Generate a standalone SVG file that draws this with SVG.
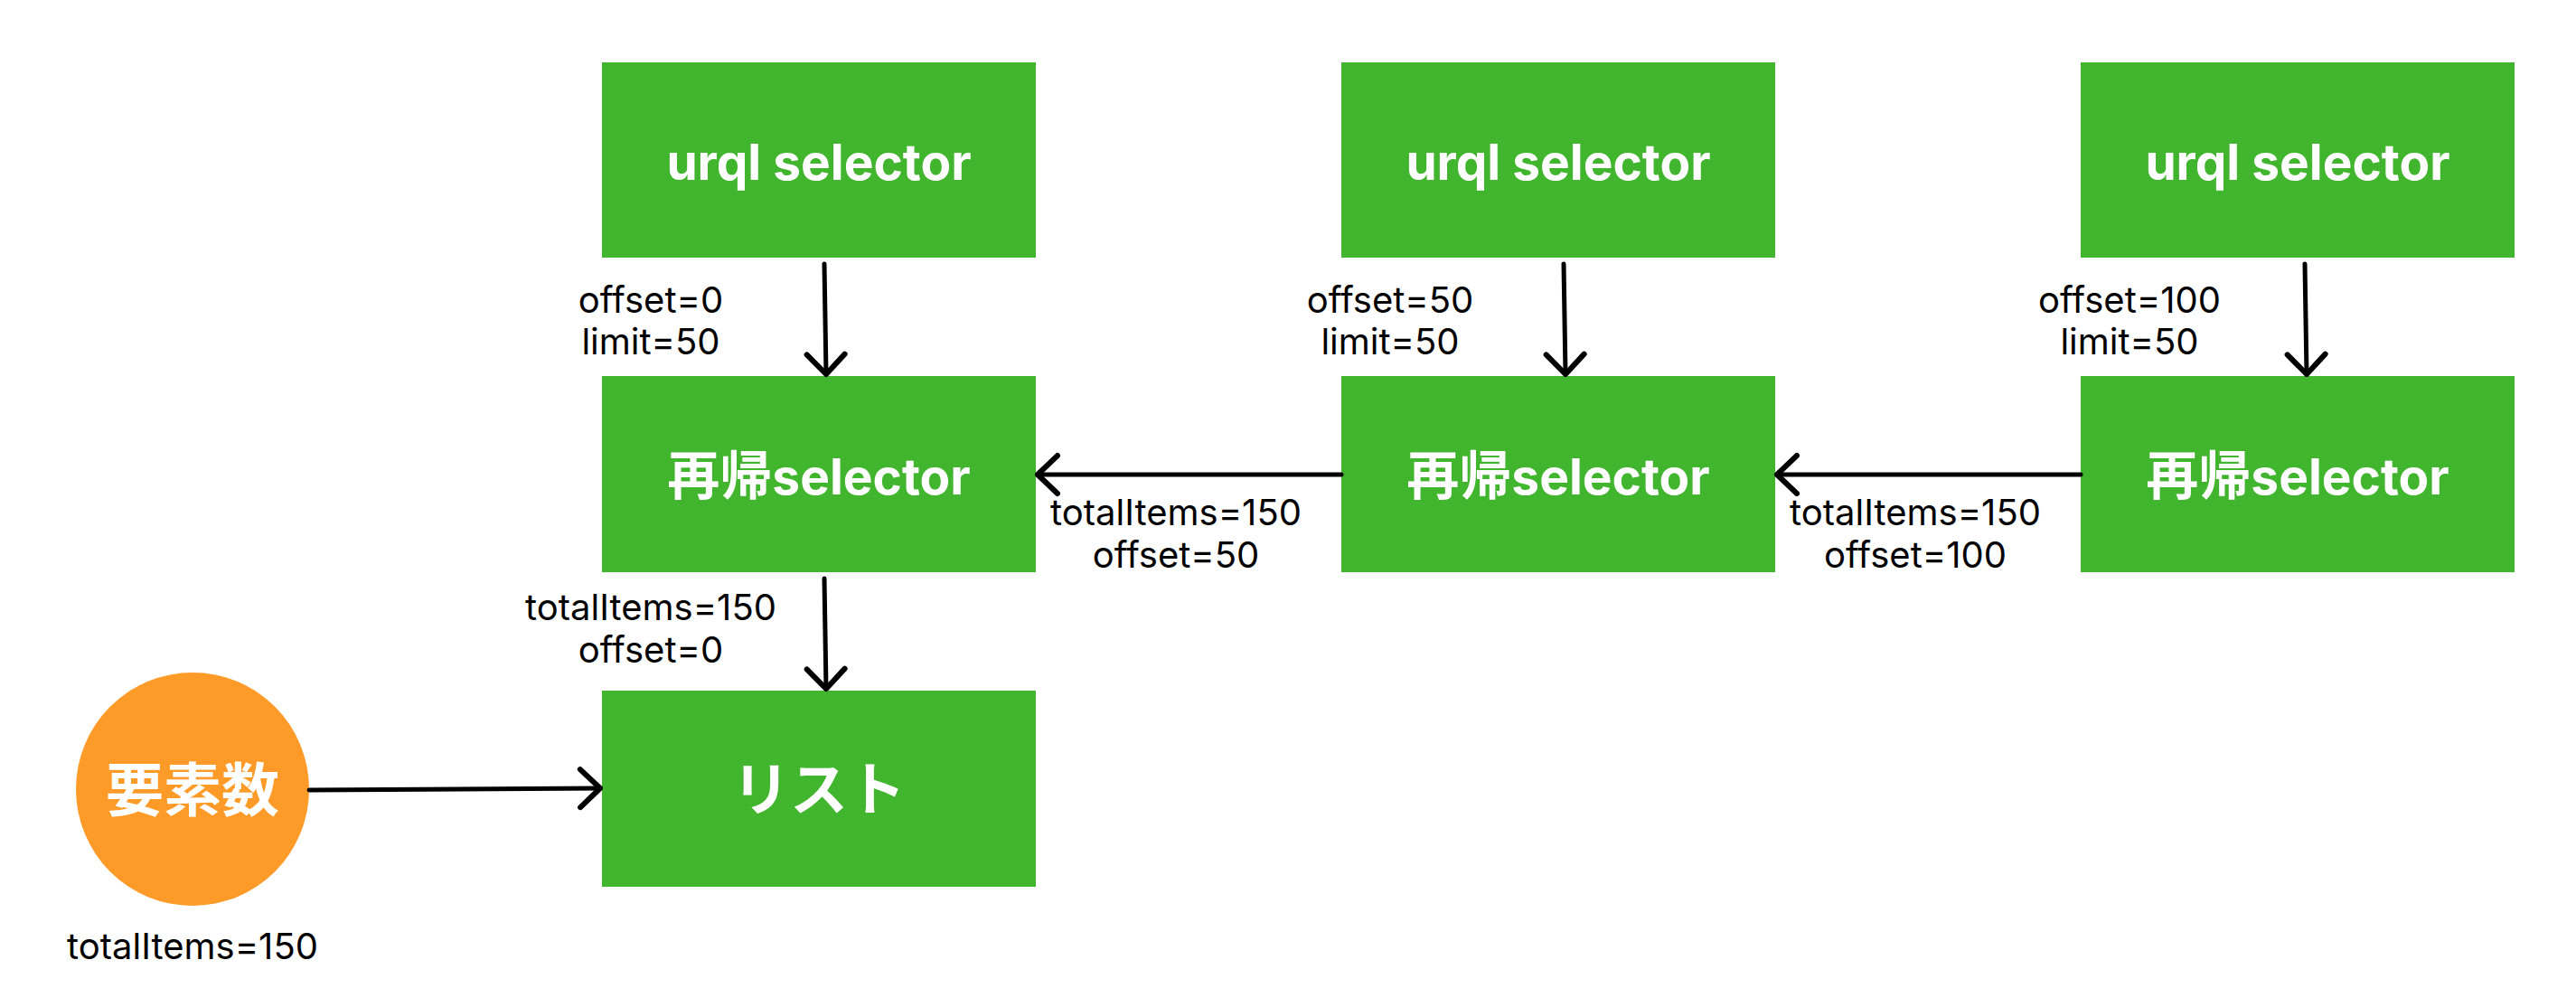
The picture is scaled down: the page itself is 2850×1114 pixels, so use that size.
<svg xmlns="http://www.w3.org/2000/svg" width="2850" height="1114" viewBox="0 0 2850 1114">
<style>
.box{fill:#42B52F}
.circ{fill:#FE9B28}
.nt{fill:#fff;font-family:Inter,"Noto Sans","Noto Sans CJK JP",sans-serif;font-weight:700;font-size:55px;text-anchor:middle}
.cjk{font-family:"Noto Sans CJK JP",sans-serif;font-size:58px}
.cjk2{font-family:"Noto Sans CJK JP",sans-serif;font-size:64px}
.lb{fill:#000;font-family:Inter,"Noto Sans",sans-serif;font-size:40px;text-anchor:middle}
.ln{stroke:#000;stroke-width:5;fill:none;stroke-linecap:round}
</style>
<defs>
<marker id="ah" markerUnits="userSpaceOnUse" markerWidth="60" markerHeight="60" refX="0" refY="0" viewBox="-30 -30 60 60" orient="auto" overflow="visible">
<path d="M-22,-21 L0,0 L-22,21" fill="none" stroke="#000" stroke-width="6" stroke-linecap="round" stroke-linejoin="round"/>
</marker>
</defs>
<rect width="2850" height="1114" fill="#fff"/>
<g id="urql1"><rect class="box" x="666" y="69" width="480" height="216"/><text class="nt" x="906" y="199">urql selector</text></g>
<g id="urql2"><rect class="box" x="1484" y="69" width="480" height="216"/><text class="nt" x="1724" y="199">urql selector</text></g>
<g id="urql3"><rect class="box" x="2302" y="69" width="480" height="216"/><text class="nt" x="2542" y="199">urql selector</text></g>
<g id="rec1"><rect class="box" x="666" y="416" width="480" height="217"/><text class="nt" x="906" y="547"><tspan class="cjk">再帰</tspan>selector</text></g>
<g id="rec2"><rect class="box" x="1484" y="416" width="480" height="217"/><text class="nt" x="1724" y="547"><tspan class="cjk">再帰</tspan>selector</text></g>
<g id="rec3"><rect class="box" x="2302" y="416" width="480" height="217"/><text class="nt" x="2542" y="547"><tspan class="cjk">再帰</tspan>selector</text></g>
<g id="list"><rect class="box" x="666" y="764" width="480" height="217"/><text class="nt cjk2" x="906" y="896">リスト</text></g>
<g id="count"><circle class="circ" cx="213" cy="873" r="129"/><text class="nt cjk2" x="213" y="897">要素数</text></g>
<g id="connectors">
<line class="ln" x1="912" y1="292" x2="914" y2="414" marker-end="url(#ah)"/>
<line class="ln" x1="1730" y1="292" x2="1732" y2="414" marker-end="url(#ah)"/>
<line class="ln" x1="2550" y1="292" x2="2552" y2="414" marker-end="url(#ah)"/>
<line class="ln" x1="1484" y1="525" x2="1148" y2="525" marker-end="url(#ah)"/>
<line class="ln" x1="2302" y1="525" x2="1966" y2="525" marker-end="url(#ah)"/>
<line class="ln" x1="912" y1="640" x2="914" y2="762" marker-end="url(#ah)"/>
<line class="ln" x1="342" y1="874" x2="664" y2="872" marker-end="url(#ah)"/>
</g>
<g id="labels">
<text class="lb" x="720" y="346">offset=0</text><text class="lb" x="720" y="392">limit=50</text>
<text class="lb" x="1538" y="346">offset=50</text><text class="lb" x="1538" y="392">limit=50</text>
<text class="lb" x="2356" y="346">offset=100</text><text class="lb" x="2356" y="392">limit=50</text>
<text class="lb" x="1301" y="581">totalItems=150</text><text class="lb" x="1301" y="628">offset=50</text>
<text class="lb" x="2119" y="581">totalItems=150</text><text class="lb" x="2119" y="628">offset=100</text>
<text class="lb" x="720" y="686">totalItems=150</text><text class="lb" x="720" y="733">offset=0</text>
<text class="lb" x="213" y="1061">totalItems=150</text>
</g>
</svg>
